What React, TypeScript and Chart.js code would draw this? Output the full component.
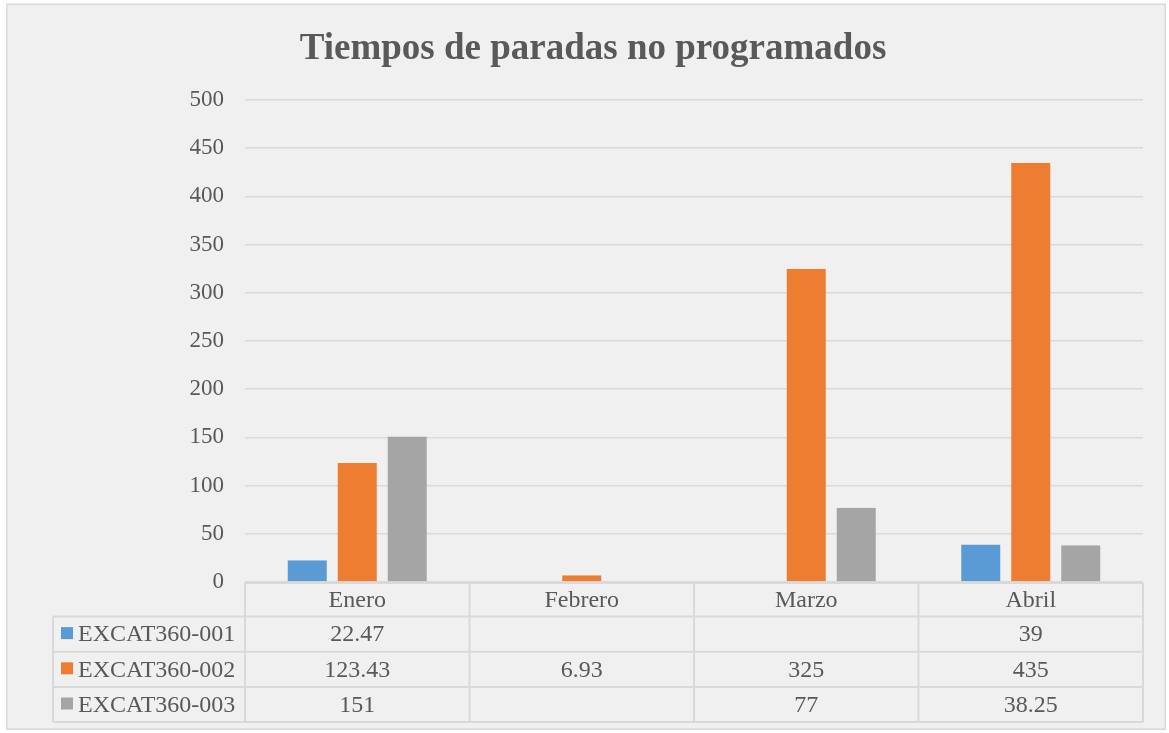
import React, { useEffect, useRef } from "react";
import { Chart, registerables } from "chart.js";

Chart.register(...registerables);

const TITLE = "Tiempos de paradas no programados";
const categories = ["Enero", "Febrero", "Marzo", "Abril"];
const seriesNames = ["EXCAT360-001", "EXCAT360-002", "EXCAT360-003"];
const series001: (number | null)[] = [22.47, null, null, 39];
const series002: (number | null)[] = [123.43, 6.93, 325, 435];
const series003: (number | null)[] = [151, null, 77, 38.25];
const colors = ["#5B9BD5", "#ED7D31", "#A5A5A5"];
const yTicks = [0, 50, 100, 150, 200, 250, 300, 350, 400, 450, 500];

const FONT = '"Liberation Serif", "Times New Roman", serif';
const TEXT = "#595959";
const LINE = "#d9d9d9";

const allSeries = [series001, series002, series003];

const frame = {
  id: "frame",
  beforeDraw(chart: any) {
    const { ctx, width, height } = chart;
    ctx.save();
    ctx.fillStyle = "#ffffff";
    ctx.fillRect(0, 0, width, height);
    ctx.fillStyle = "#f0f0f0";
    ctx.fillRect(7, 4, 1158, 725);
    ctx.strokeStyle = LINE;
    ctx.lineWidth = 1.5;
    ctx.strokeRect(6.75, 4.25, 1158.5, 725);
    ctx.fillStyle = TEXT;
    ctx.font = `bold 37px ${FONT}`;
    ctx.textAlign = "center";
    ctx.textBaseline = "alphabetic";
    ctx.fillText(TITLE, 593, 59);
    ctx.restore();
  },
};

const table = {
  id: "dataTable",
  afterDraw(chart: any) {
    const { ctx, chartArea } = chart;
    const x = chart.scales.x;
    const n = categories.length;
    const colW = (chartArea.right - chartArea.left) / n;
    const top = chartArea.bottom + 1;
    const headerH = 33.5;
    const rowH = 35.2;
    const leftX = 53;
    const rows = seriesNames.length;
    const bottom = top + headerH + rows * rowH;
    ctx.save();
    ctx.strokeStyle = LINE;
    ctx.lineWidth = 2;
    ctx.beginPath();
    ctx.moveTo(chartArea.left, top);
    ctx.lineTo(chartArea.right, top);
    for (let r = 0; r <= rows; r++) {
      const yy = top + headerH + r * rowH;
      ctx.moveTo(leftX, yy);
      ctx.lineTo(chartArea.right, yy);
    }
    for (let c = 0; c <= n; c++) {
      const xx = chartArea.left + c * colW;
      ctx.moveTo(xx, top);
      ctx.lineTo(xx, bottom);
    }
    ctx.moveTo(leftX, top + headerH);
    ctx.lineTo(leftX, bottom);
    ctx.stroke();

    ctx.font = `24px ${FONT}`;
    ctx.fillStyle = TEXT;
    ctx.textBaseline = "middle";
    ctx.textAlign = "center";
    categories.forEach((c, i) => {
      ctx.fillText(c, x.getPixelForValue(i), top + headerH / 2 + 1);
    });
    seriesNames.forEach((name, r) => {
      const cy = top + headerH + r * rowH + rowH / 2 + 1;
      ctx.fillStyle = colors[r];
      ctx.fillRect(61, cy - 8, 12, 12);
      ctx.fillStyle = TEXT;
      ctx.textAlign = "left";
      ctx.fillText(name, 78, cy);
      ctx.textAlign = "center";
      allSeries[r].forEach((v, i) => {
        if (v !== null && v !== undefined) {
          ctx.fillText(String(v), x.getPixelForValue(i), cy);
        }
      });
    });
    ctx.restore();
  },
};

export default function App() {
  const ref = useRef<HTMLCanvasElement>(null);
  useEffect(() => {
    if (!ref.current) return;
    const chart = new Chart(ref.current, {
      type: "bar",
      data: {
        labels: categories,
        datasets: seriesNames.map((name, i) => ({
          label: name,
          data: allSeries[i],
          backgroundColor: colors[i],
          borderColor: "rgba(0,0,0,0)",
          borderWidth: { left: 5.5, right: 5.5, top: 0, bottom: 0 },
          borderSkipped: false,
          inflateAmount: 0,
          barPercentage: 1,
          categoryPercentage: 0.668,
        })),
      },
      options: {
        animation: false,
        responsive: false,
        events: [],
        layout: { padding: { left: 0, right: 26, top: 100, bottom: 151 } },
        plugins: {
          legend: { display: false },
          tooltip: { enabled: false },
          title: { display: false },
        },
        scales: {
          x: { display: false },
          y: {
            min: 0,
            max: 500,
            afterBuildTicks: (s: any) => {
              s.ticks = yTicks.map((v) => ({ value: v }));
            },
            afterFit: (s: any) => {
              s.width = 245;
            },
            border: { display: false },
            grid: { color: LINE, lineWidth: 1.5, drawTicks: false },
            ticks: {
              padding: 21,
              color: TEXT,
              font: { family: FONT, size: 23 },
            },
          },
        },
      },
      plugins: [frame, table],
    });
    return () => chart.destroy();
  }, []);
  return (
    <div style={{ position: "absolute", left: 0, top: 0, width: 1169, height: 733 }}>
      <canvas ref={ref} width={1169} height={733} style={{ display: "block" }} />
    </div>
  );
}
